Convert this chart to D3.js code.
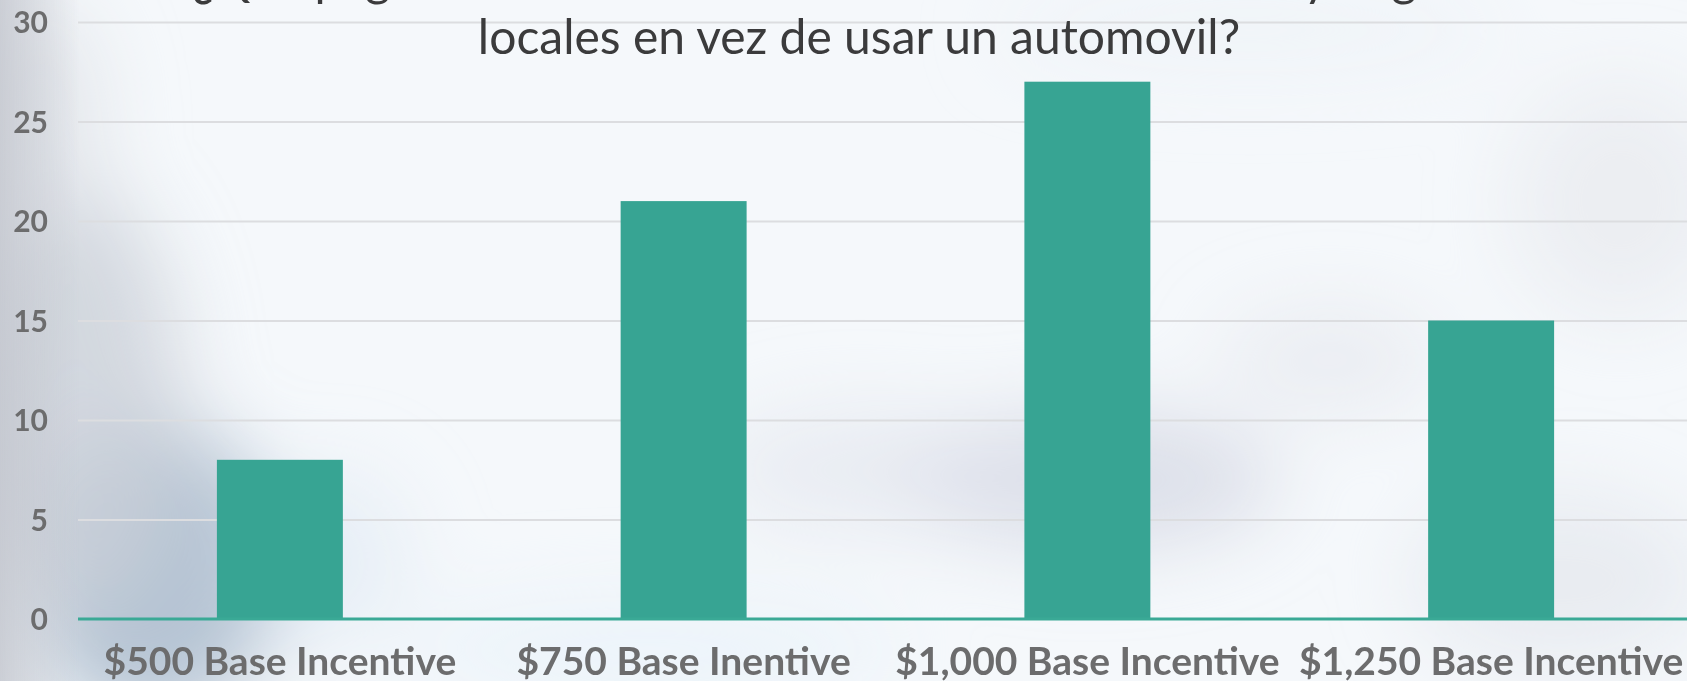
<!DOCTYPE html>
<html>
<head>
<meta charset="utf-8">
<script src="https://cdn.jsdelivr.net/npm/d3@7"></script>
<style>
  body { margin: 0; overflow: hidden; }
  svg { display: block; }
</style>
</head>
<body>
<script>
var width = 1687;
var height = 681;

// data
var categories = ["$500 Base Incentive", "$750 Base Inentive", "$1,000 Base Incentive", "$1,250 Base Incentive"];
var values = [8, 21, 27, 15];
var yTicks = [0, 5, 10, 15, 20, 25, 30];
var titleLines = ["¿Qué pago lo haría caminar o ir en bicicleta a tiendas y negocios", "locales en vez de usar un automovil?"];

var plot = {left: 78, right: 1693, top: 22, bottom: 619};

var svg = d3.select("body").append("svg")
	.attr("width", width)
	.attr("height", height);

// blurry photo background
var defs = svg.append("defs");
defs.append("filter").attr("id", "blur")
	.attr("x", "-50%").attr("y", "-50%").attr("width", "200%").attr("height", "200%")
	.append("feGaussianBlur").attr("stdDeviation", 40);
var lg = defs.append("linearGradient").attr("id", "leftEdge");
lg.append("stop").attr("offset", "0%").attr("stop-color", "#c2c5cd").attr("stop-opacity", 1);
lg.append("stop").attr("offset", "100%").attr("stop-color", "#c2c5cd").attr("stop-opacity", 0);

svg.append("rect").attr("width", width).attr("height", height).attr("fill", "#f5f8fb");
var bg = svg.append("g").attr("filter", "url(#blur)");
var blobs = [
	[150, 570, 130, 150, "#a9bacb", 0.85],
	[70, 400, 110, 220, "#cbcfd8", 0.8],
	[40, 120, 60, 120, "#dfe2e7", 0.8],
	[1090, 480, 190, 70, "#d4d7e3", 0.75],
	[860, 470, 150, 60, "#e1e4ed", 0.6],
	[1330, 360, 110, 50, "#e2e4eb", 0.6],
	[1620, 200, 110, 120, "#e6e8ed", 0.6],
	[1560, 580, 150, 90, "#e1e4eb", 0.6],
	[650, 650, 250, 50, "#eaf3fa", 0.8],
	[330, 560, 80, 90, "#e0eaf3", 0.6],
	[1250, 30, 250, 40, "#eef2f8", 0.8]
];
blobs.forEach(function(b) {
	bg.append("ellipse")
		.attr("cx", b[0]).attr("cy", b[1]).attr("rx", b[2]).attr("ry", b[3])
		.attr("fill", b[4]).attr("opacity", b[5]);
});
svg.append("rect").attr("width", 80).attr("height", height).attr("fill", "url(#leftEdge)").attr("opacity", 0.8);

var x = d3.scaleBand()
	.domain(categories)
	.range([plot.left, plot.right])
	.paddingInner(0.688)
	.paddingOuter(0.344);

var y = d3.scaleLinear()
	.domain([0, 30])
	.range([plot.bottom, plot.top]);

// gridlines + y labels
var yAxis = svg.append("g")
	.attr("transform", "translate(" + plot.left + ",0)")
	.call(d3.axisLeft(y).tickValues(yTicks).tickSize(-(width - plot.left)).tickPadding(30));
yAxis.select(".domain").remove();
yAxis.selectAll(".tick line")
	.attr("stroke", (d) => d === 0 ? "none" : "#dcdde0")
	.attr("stroke-width", 2);
yAxis.selectAll(".tick text")
	.attr("fill", "#6c6c6d")
	.attr("dy", "0.36em")
	.style("font-family", "Lato, sans-serif")
	.style("font-weight", "bold")
	.style("font-size", "30px");

// bars
svg.selectAll("rect.bar")
	.data(values)
	.enter()
	.append("rect")
	.attr("class", "bar")
	.attr("x", (d, i) => x(categories[i]))
	.attr("y", (d) => y(d))
	.attr("width", x.bandwidth())
	.attr("height", (d) => y(0) - y(d))
	.attr("fill", "#37a493");

// baseline
svg.append("line")
	.attr("x1", plot.left).attr("x2", width)
	.attr("y1", y(0)).attr("y2", y(0))
	.attr("stroke", "#3aa996")
	.attr("stroke-width", 3);

// x labels
var xAxis = svg.append("g")
	.attr("transform", "translate(0," + y(0) + ")")
	.call(d3.axisBottom(x).tickSize(0).tickPadding(0));
xAxis.select(".domain").remove();
xAxis.selectAll(".tick text")
	.attr("dy", null)
	.attr("y", 56)
	.attr("fill", "#6c6c6d")
	.style("font-family", "Lato, sans-serif")
	.style("font-weight", "bold")
	.style("font-size", "39px");

// title (first line runs off the top)
svg.selectAll("text.title")
	.data(titleLines)
	.enter()
	.append("text")
	.attr("class", "title")
	.attr("x", 859)
	.attr("y", (d, i) => i === 0 ? -4 : 54)
	.attr("text-anchor", "middle")
	.attr("fill", "#3b3b3c")
	.style("font-family", "Lato, sans-serif")
	.style("font-size", "48px")
	.text((d) => d);
</script>
</body>
</html>
